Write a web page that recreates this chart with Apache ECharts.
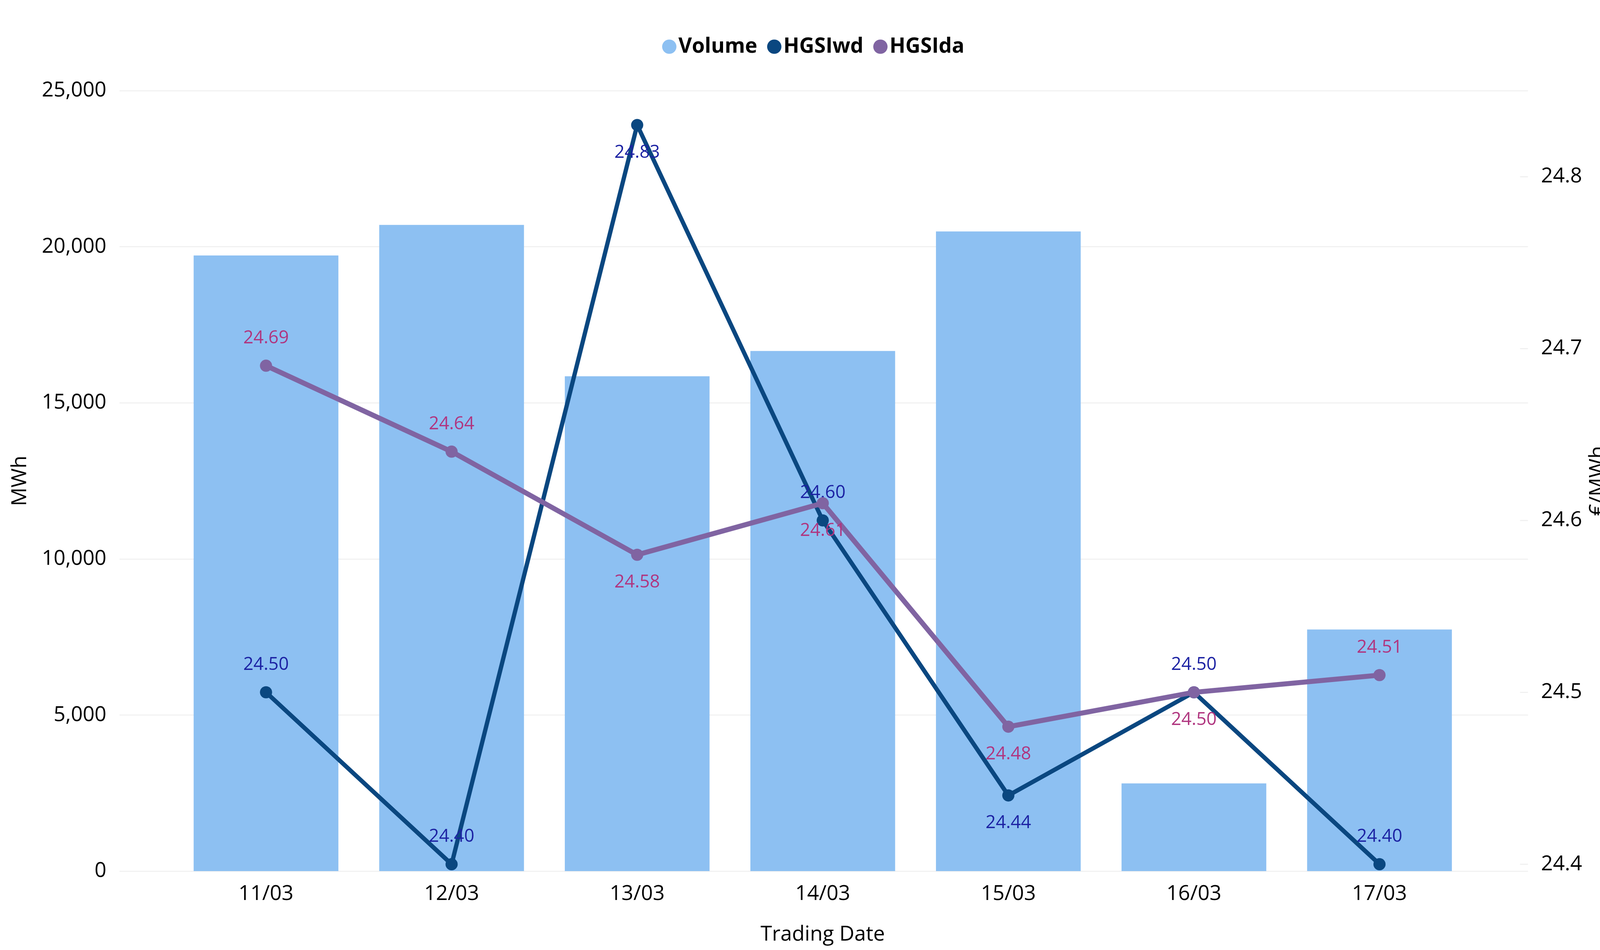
<!DOCTYPE html>
<html>
<head>
<meta charset="utf-8">
<script src="https://cdn.jsdelivr.net/npm/echarts@6/dist/echarts.min.js"></script>
<style>
  html, body { margin: 0; padding: 0; background: #ffffff; overflow: hidden; }
  #chart { width: 100vw; height: 100vh; }
</style>
</head>
<body>
<div id="chart"></div>
<script>
// ---- data ----
const categories = ['11/03', '12/03', '13/03', '14/03', '15/03', '16/03', '17/03'];
const volume = [19720, 20700, 15850, 16660, 20490, 2810, 7740];
const hgsiwd = [24.50, 24.40, 24.83, 24.60, 24.44, 24.50, 24.40];
const hgsida = [24.69, 24.64, 24.58, 24.61, 24.48, 24.50, 24.51];
const leftTicks = { min: 0, max: 25000, interval: 5000 };
const rightRange = { min: 24.396, max: 24.85 };
// label placement per point (above / below the marker)
const wdLabelPos = ['top', 'top', 'bottom', 'top', 'bottom', 'top', 'top'];
const daLabelPos = ['top', 'top', 'bottom', 'bottom', 'bottom', 'bottom', 'top'];

// ---- layout (designed for 4886 x 2432, stretched to the viewport) ----
const BASE_W = 4886, BASE_H = 2432;
const vw = window.innerWidth || BASE_W, vh = window.innerHeight || BASE_H;
const SX = vw / BASE_W, SY = vh / BASE_H;
const SF = Math.sqrt(SX * SY);
const X = v => v * SX, Y = v => v * SY, F = v => v * SF;

const el = document.getElementById('chart');
el.style.width = vw + 'px';
el.style.height = vh + 'px';

const FONT = '"Open Sans", "Noto Sans", sans-serif';
const C_VOL = '#8DC0F2', C_WD = '#0A4780', C_DA = '#8064A2';
const C_WD_LBL = '#1C22A3', C_DA_LBL = '#B0357F';
const C_GRID = '#EFEFEF';

function withLabels(values, positions) {
  return values.map((v, i) => ({ value: v, label: { position: positions[i] } }));
}

const chart = echarts.init(el, null, { renderer: 'canvas' });

const gridTop = Y(232), gridBottom = Y(BASE_H - 2230);
const axisFont = { fontFamily: FONT, fontSize: F(58), color: '#000' };

function lineLabel(color) {
  return {
    show: true,
    distance: Y(32),
    fontFamily: FONT,
    fontSize: F(50),
    color: color,
    formatter: p => Number(p.value).toFixed(2)
  };
}

chart.setOption({
  backgroundColor: '#ffffff',
  animation: false,
  textStyle: { fontFamily: FONT },
  legend: {
    top: Y(93),
    left: X(2022),
    padding: 0,
    icon: 'circle',
    itemWidth: F(40),
    itemHeight: F(40),
    itemGap: X(30),
    textStyle: { fontFamily: FONT, fontSize: F(58), fontWeight: 'bold', color: '#000' },
    data: ['Volume', 'HGSIwd', 'HGSIda']
  },
  grid: [
    { left: X(365), right: X(220), top: gridTop, bottom: gridBottom, containLabel: false, outerBoundsMode: 'none' },
    { left: X(529), right: X(390), top: gridTop, bottom: gridBottom, containLabel: false, outerBoundsMode: 'none' }
  ],
  xAxis: [
    { gridIndex: 0, type: 'value', min: 0, max: 1, show: false },
    {
      gridIndex: 1,
      type: 'category',
      data: categories,
      boundaryGap: true,
      axisLine: { show: false },
      axisTick: { show: false },
      axisLabel: Object.assign({ margin: Y(32) }, axisFont),
      name: 'Trading Date',
      nameLocation: 'middle',
      nameGap: Y(136),
      nameTextStyle: axisFont
    }
  ],
  yAxis: [
    {
      gridIndex: 0,
      type: 'value',
      position: 'left',
      min: leftTicks.min, max: leftTicks.max, interval: leftTicks.interval,
      axisLine: { show: false },
      axisTick: { show: false },
      axisLabel: Object.assign({ margin: X(40) }, axisFont),
      splitLine: { show: true, lineStyle: { color: C_GRID, width: F(3) } },
      name: 'MWh',
      nameLocation: 'middle',
      nameGap: X(272),
      nameTextStyle: axisFont
    },
    {
      gridIndex: 0,
      type: 'value',
      position: 'right',
      min: rightRange.min, max: rightRange.max,
      splitNumber: 5,
      axisLine: { show: false },
      axisTick: { show: true, inside: true, length: X(24), lineStyle: { color: C_GRID, width: F(3) } },
      axisLabel: Object.assign({ margin: X(40), showMinLabel: false, showMaxLabel: false }, axisFont),
      splitLine: { show: false },
      name: '€/MWh',
      nameLocation: 'middle',
      nameGap: X(182),
      nameTextStyle: axisFont
    },
    { gridIndex: 1, type: 'value', min: leftTicks.min, max: leftTicks.max, show: false, splitLine: { show: false } },
    { gridIndex: 1, type: 'value', min: rightRange.min, max: rightRange.max, show: false, splitLine: { show: false } }
  ],
  series: [
    {
      name: 'Volume',
      type: 'bar',
      xAxisIndex: 1,
      yAxisIndex: 2,
      data: volume,
      barCategoryGap: '22%',
      itemStyle: { color: C_VOL },
      z: 1
    },
    {
      name: 'HGSIwd',
      type: 'line',
      xAxisIndex: 1,
      yAxisIndex: 3,
      data: withLabels(hgsiwd, wdLabelPos),
      symbol: 'circle',
      symbolSize: F(34),
      lineStyle: { color: C_WD, width: F(12) },
      itemStyle: { color: C_WD },
      label: lineLabel(C_WD_LBL),
      z: 3
    },
    {
      name: 'HGSIda',
      type: 'line',
      xAxisIndex: 1,
      yAxisIndex: 3,
      data: withLabels(hgsida, daLabelPos),
      symbol: 'circle',
      symbolSize: F(34),
      lineStyle: { color: C_DA, width: F(14) },
      itemStyle: { color: C_DA },
      label: lineLabel(C_DA_LBL),
      z: 4
    }
  ]
});
</script>
</body>
</html>
